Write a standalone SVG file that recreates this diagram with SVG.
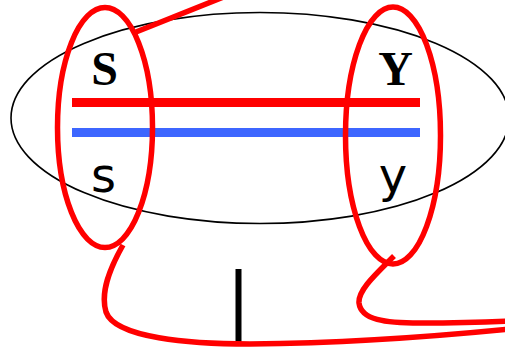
<svg xmlns="http://www.w3.org/2000/svg" width="505" height="348" viewBox="0 0 505 348">
<style>
.red{fill:none;stroke:#ff0000;stroke-width:5.5}
.big{fill:none;stroke:#000;stroke-width:1.6}
.bold{font-family:"Liberation Serif",serif;font-weight:bold;font-size:48px;fill:#000;text-anchor:middle}
.sans{font-family:"DejaVu Sans",sans-serif;font-size:48px;fill:#000;text-anchor:middle}
</style>
<rect width="505" height="348" fill="#fff"/>
<g id="outer">
<ellipse class="big" cx="260" cy="118" rx="249" ry="105.5"/>
</g>
<g id="strands">
<line x1="72" y1="102.5" x2="420" y2="102.5" stroke="#ff0000" stroke-width="9"/>
<line x1="72" y1="132.5" x2="420" y2="132.5" stroke="#3d66ff" stroke-width="9"/>
</g>
<g id="left">
<ellipse class="red" cx="105" cy="127.5" rx="47.5" ry="120"/>
<text class="bold" x="104.5" y="85">S</text>
<text class="sans" x="103.5" y="192">s</text>
</g>
<g id="right">
<ellipse class="red" cx="393" cy="135.5" rx="47.5" ry="128.5"/>
<text class="bold" x="395.5" y="85">Y</text>
<text class="sans" x="393" y="192">y</text>
</g>
<g id="connectors">
<line x1="238.5" y1="269" x2="238.5" y2="344" stroke="#000" stroke-width="6"/>
<path class="red" d="M136,32 L226,-4"/>
<path class="red" d="M123,245 C110,268 100,292 106,312 C115,338 190,344 250,344 C350,343 450,335 510,329"/>
<path class="red" d="M394,256 C376,274 358,290 359,303 C361,320 385,323 420,323 C460,323 490,322 510,321"/>
</g>
</svg>
